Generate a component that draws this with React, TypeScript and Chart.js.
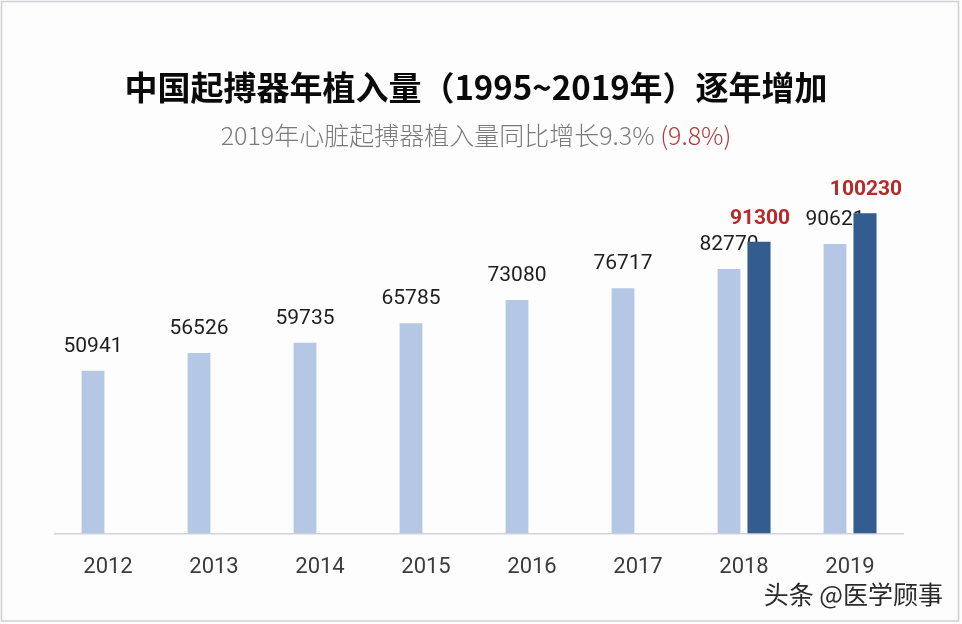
import React, { useEffect, useRef } from "react";
import { Chart, registerables } from "chart.js";

Chart.register(...registerables);

const categories = ["2012", "2013", "2014", "2015", "2016", "2017", "2018", "2019"];
const implantsBase = [50941, 56526, 59735, 65785, 73080, 76717, 82770, 90621];
const implantsRevised = [null, null, null, null, null, null, 91300, 100230];

const titleText = "中国起搏器年植入量（1995~2019年）逐年增加";
const subtitleGray = "2019年心脏起搏器植入量同比增长9.3% ";
const subtitleRed = "(9.8%)";
const watermarkText = "头条 @医学顾事";

const CJK = '"Noto Sans CJK SC", "Noto Sans", sans-serif';
const NUM = 'Roboto, "Noto Sans", sans-serif';

const decorPlugin = {
  id: "decor",
  beforeDraw(chart: any) {
    const { ctx, width, height } = chart;
    ctx.save();
    ctx.fillStyle = "#fdfdfe";
    ctx.fillRect(0, 0, width, height);
    ctx.strokeStyle = "#cfcfd2";
    ctx.lineWidth = 1.5;
    ctx.strokeRect(1.5, 1.5, 957, 619.5);
    ctx.restore();
  },
  beforeDatasetsDraw(chart: any) {
    const { ctx } = chart;
    const meta = chart.getDatasetMeta(0);
    ctx.save();
    ctx.font = `400 21px ${NUM}`;
    ctx.fillStyle = "#1e1e1e";
    ctx.textAlign = "center";
    ctx.textBaseline = "alphabetic";
    meta.data.forEach((bar: any, i: number) => {
      const v = implantsBase[i];
      if (v == null) return;
      ctx.fillText(String(v), bar.x, bar.y - 19);
    });
    ctx.restore();
  },
  afterDatasetsDraw(chart: any) {
    const { ctx } = chart;
    const meta = chart.getDatasetMeta(1);
    ctx.save();
    ctx.font = `700 21px ${NUM}`;
    ctx.fillStyle = "#b82a2a";
    ctx.textAlign = "center";
    ctx.textBaseline = "alphabetic";
    meta.data.forEach((bar: any, i: number) => {
      const v = implantsRevised[i];
      if (v == null) return;
      ctx.fillText(String(v), bar.x + 1, bar.y - 18);
    });
    ctx.restore();
  },
  afterDraw(chart: any) {
    const { ctx } = chart;
    const cx = 476;
    ctx.save();
    // title
    ctx.font = `700 33px ${CJK}`;
    ctx.fillStyle = "#0a0a0a";
    ctx.textAlign = "center";
    ctx.textBaseline = "middle";
    ctx.fillText(titleText, cx, 87);
    // subtitle
    ctx.font = `300 25px ${CJK}`;
    const w1 = ctx.measureText(subtitleGray).width;
    const w2 = ctx.measureText(subtitleRed).width;
    const x0 = cx - (w1 + w2) / 2;
    ctx.textAlign = "left";
    ctx.fillStyle = "#7a7a7a";
    ctx.fillText(subtitleGray, x0, 135);
    ctx.fillStyle = "#b23a3a";
    ctx.fillText(subtitleRed, x0 + w1, 135);
    // watermark
    ctx.font = `400 25px ${CJK}`;
    ctx.fillStyle = "#2a2a2a";
    ctx.textAlign = "right";
    ctx.fillText(watermarkText, 943, 594);
    ctx.restore();
  },
};

export default function App() {
  const ref = useRef<HTMLCanvasElement | null>(null);
  useEffect(() => {
    if (!ref.current) return;
    const chart = new Chart(ref.current, {
      type: "bar",
      data: {
        labels: categories,
        datasets: [
          {
            data: implantsBase,
            backgroundColor: "#b4c7e4",
            categoryPercentage: 0.566,
            barPercentage: 0.76,
          },
          {
            data: implantsRevised as any,
            backgroundColor: "#345d8f",
            categoryPercentage: 0.566,
            barPercentage: 0.77,
          },
        ],
      },
      options: {
        animation: false,
        responsive: true,
        maintainAspectRatio: false,
        layout: { padding: { top: 150, left: 55, right: 59, bottom: 22 } },
        plugins: {
          legend: { display: false },
          tooltip: { enabled: false },
          title: { display: false },
        },
        scales: {
          x: {
            grid: { display: false, drawTicks: false },
            border: { display: true, color: "#d4d4d8", width: 1.5 },
            ticks: {
              color: "#3c3c3c",
              padding: 21,
              font: { family: NUM, size: 22 },
            },
          },
          y: {
            display: false,
            min: 0,
            max: 120000,
          },
        },
      },
      plugins: [decorPlugin],
    });
    return () => chart.destroy();
  }, []);
  return (
    <div style={{ position: "fixed", left: 0, top: 0, width: 962, height: 624 }}>
      <canvas ref={ref} />
    </div>
  );
}
